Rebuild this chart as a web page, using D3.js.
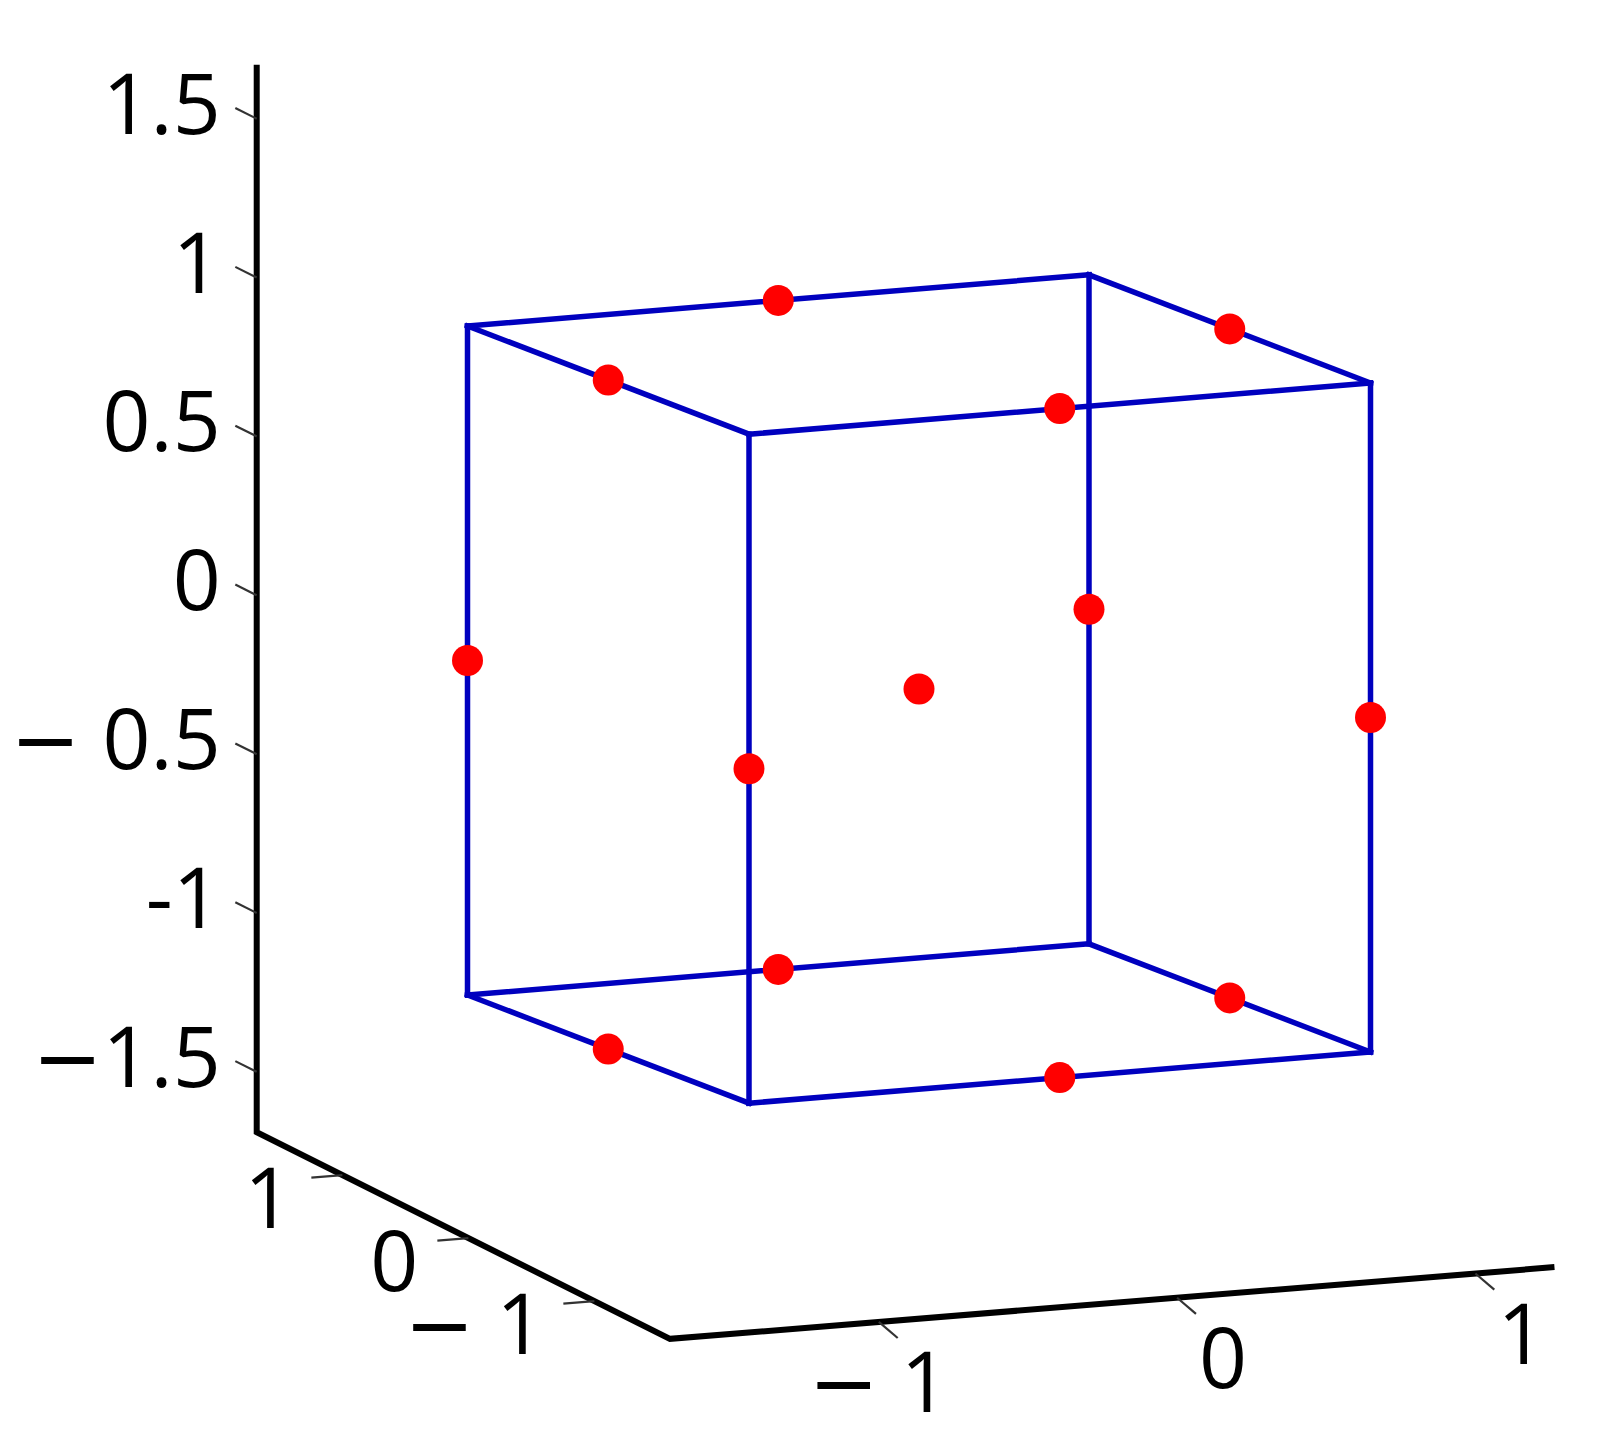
<!DOCTYPE html>
<html>
<head>
<meta charset="utf-8">
<script src="https://cdn.jsdelivr.net/npm/d3@7"></script>
<style>
  html, body { margin: 0; padding: 0; background: #fff; }
  text { font-family: "Open Sans", sans-serif; fill: #000; }
</style>
</head>
<body>
<div class="cube_plot"></div>
<script>
// size of the picture
let svg_width = 1608;
let svg_height = 1455;

// limits of the axis box
let x_lim = [-1.70, 1.265];
let y_lim = [-1.60, 1.68];
let z_lim = [-1.69, 1.67];

// ticks and their labels
let x_ticks = [-1, 0, 1];
let x_tick_labels = ['− 1', '0', '1'];
let y_ticks = [-1, 0, 1];
let y_tick_labels = ['− 1', '0', '1'];
let z_ticks = [-1.5, -1, -0.5, 0, 0.5, 1, 1.5];
let z_tick_labels = ['−1.5', '-1', '− 0.5', '0', '0.5', '1', '1.5'];

// cube corners and the 12 edges (pairs of corner indices)
let cube_x = [-1, 1, 1, -1, -1, 1, 1, -1];
let cube_y = [-1, -1, 1, 1, -1, -1, 1, 1];
let cube_z = [-1, -1, -1, -1, 1, 1, 1, 1];
let cube_edges = [[0, 1], [1, 2], [2, 3], [3, 0],
                  [4, 5], [5, 6], [6, 7], [7, 4],
                  [0, 4], [1, 5], [2, 6], [3, 7]];

// red points: middle of every edge and the centre
let dot_x = [0, 1, 0, -1, 0, 1, 0, -1, -1, 1, 1, -1, 0];
let dot_y = [-1, 0, 1, 0, -1, 0, 1, 0, -1, -1, 1, 1, 0];
let dot_z = [-1, -1, -1, -1, 1, 1, 1, 1, 0, 0, 0, 0, 0];

let font_size = 84;

// ================================================
// a view = three linear scales giving the screen offset of one unit along x, y, z
function makeView(origin, ex, ey, ez) {
    let sx = d3.scaleLinear().domain([0, 1]).range([[0, 0], ex]);
    let sy = d3.scaleLinear().domain([0, 1]).range([[0, 0], ey]);
    let sz = d3.scaleLinear().domain([0, 1]).range([[0, 0], ez]);
    return function (x, y, z) {
        let a = sx(x), b = sy(y), c = sz(z);
        return [origin[0] + a[0] + b[0] + c[0], origin[1] + a[1] + b[1] + c[1]];
    };
}

let axes_view = makeView([975.5, 660], [298.3, -24.2], [-126, -63], [0, -317.7]);
let cube_view = makeView([919, 689], [310.75, -25.6], [-140.75, -54.1], [0, -334.5]);

// text with a wide minus sign in front
function addLabel(g, str, x, y, anchor) {
    let t = g.append('text')
             .attr('x', x)
             .attr('y', y)
             .attr('font-size', font_size)
             .attr('text-anchor', anchor);
    if (str[0] === '−') {
        t.append('tspan').style('font-family', '"DejaVu Sans"').text('−');
        t.append('tspan').text(str.slice(1));
    } else {
        t.text(str);
    }
    return t;
}

function insertAxes(svg) {
    let g = svg.append('g');
    let line = d3.line();

    // box edges
    let corners = [
        axes_view(x_lim[0], y_lim[1], z_lim[1]),
        axes_view(x_lim[0], y_lim[1], z_lim[0]),
        axes_view(x_lim[0], y_lim[0], z_lim[0]),
        axes_view(x_lim[1], y_lim[0], z_lim[0])
    ];
    g.append('path')
     .attr('d', line(corners))
     .attr('fill', 'none')
     .attr('stroke', '#000')
     .attr('stroke-width', 6)
     .attr('stroke-linejoin', 'miter');

    // z ticks, pointing along +y
    z_ticks.forEach(function (t, i) {
        let p = axes_view(x_lim[0], y_lim[1], t);
        let q = axes_view(x_lim[0], y_lim[1] + 0.17, t);
        g.append('line')
         .attr('x1', p[0]).attr('y1', p[1]).attr('x2', q[0]).attr('y2', q[1])
         .attr('stroke', '#333').attr('stroke-width', 2.2);
        addLabel(g, z_tick_labels[i], p[0] - 36, p[1] + 15, 'end');
    });

    // y ticks, pointing along -x
    y_ticks.forEach(function (t, i) {
        let p = axes_view(x_lim[0], t, z_lim[0]);
        let q = axes_view(x_lim[0] - 0.104, t, z_lim[0]);
        g.append('line')
         .attr('x1', p[0]).attr('y1', p[1]).attr('x2', q[0]).attr('y2', q[1])
         .attr('stroke', '#333').attr('stroke-width', 2.2);
        addLabel(g, y_tick_labels[i], p[0] - 50, p[1] + 53, 'end');
    });

    // x ticks, pointing to the front and a bit down
    x_ticks.forEach(function (t, i) {
        let p = axes_view(t, y_lim[0], z_lim[0]);
        let q = axes_view(t, y_lim[0] - 0.15, z_lim[0] - 0.021);
        g.append('line')
         .attr('x1', p[0]).attr('y1', p[1]).attr('x2', q[0]).attr('y2', q[1])
         .attr('stroke', '#333').attr('stroke-width', 2.2);
        addLabel(g, x_tick_labels[i], p[0] + 46 + 0.286 * font_size, p[1] + 90, 'end');
    });
}

function insertCube(svg) {
    let g = svg.append('g');
    g.selectAll('line')
     .data(cube_edges)
     .enter()
     .append('line')
     .attr('x1', function (d) { return cube_view(cube_x[d[0]], cube_y[d[0]], cube_z[d[0]])[0]; })
     .attr('y1', function (d) { return cube_view(cube_x[d[0]], cube_y[d[0]], cube_z[d[0]])[1]; })
     .attr('x2', function (d) { return cube_view(cube_x[d[1]], cube_y[d[1]], cube_z[d[1]])[0]; })
     .attr('y2', function (d) { return cube_view(cube_x[d[1]], cube_y[d[1]], cube_z[d[1]])[1]; })
     .attr('stroke', '#0000bf')
     .attr('stroke-width', 5.5)
     .attr('stroke-linecap', 'square');
}

function insertDots(svg) {
    svg.append('g')
       .selectAll('circle')
       .data(d3.range(dot_x.length))
       .enter()
       .append('circle')
       .attr('cx', function (i) { return cube_view(dot_x[i], dot_y[i], dot_z[i])[0]; })
       .attr('cy', function (i) { return cube_view(dot_x[i], dot_y[i], dot_z[i])[1]; })
       .attr('r', 15.5)
       .attr('fill', '#ff0000');
}

// ================================================

let svg = d3.select('.cube_plot')
            .append('svg')
            .attr('width', svg_width)
            .attr('height', svg_height);

svg.append('rect')
   .attr('width', svg_width)
   .attr('height', svg_height)
   .attr('fill', '#fff');

insertAxes(svg);
insertCube(svg);
insertDots(svg);
</script>
</body>
</html>
